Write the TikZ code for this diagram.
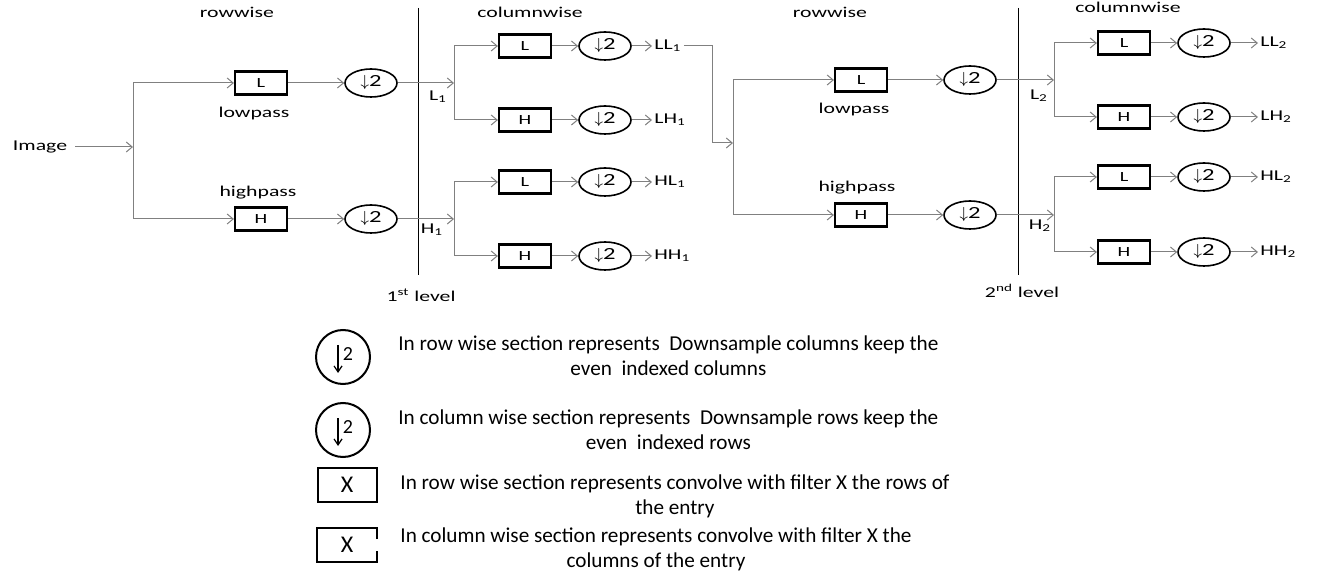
\documentclass[tikz,border=0pt]{standalone}
\usepackage{fontspec}
\setmainfont{Carlito}
\newfontfamily\widefont[FakeStretch=1.45]{Carlito}
\usetikzlibrary{arrows.meta,shapes.geometric,positioning,calc}

\tikzset{
  flow/.style={draw=gray, line width=0.5pt, -{Straight Barb[length=3pt,width=5pt]}},
  filt/.style={draw, line width=1.1pt, minimum width=26pt, minimum height=11.5pt, inner sep=0pt, font=\widefont\fontsize{7}{7}\selectfont},
  dsamp/.style={ellipse, draw, line width=0.8pt, minimum width=26pt, minimum height=14pt, inner sep=0pt, font=\widefont\fontsize{8.5}{9}\selectfont},
  lbl/.style={font=\widefont\fontsize{7.5}{9}\selectfont, inner sep=1pt},
  level/.style={draw, line width=0.45pt},
  legsym/.style={draw, line width=1pt, inner sep=0pt},
  legtxt/.style={font=\fontsize{10.6}{12.5}\selectfont, align=center, inner sep=0pt, anchor=west},
}

\begin{document}
\begin{tikzpicture}[x=0.5pt, y=-0.5pt]
\useasboundingbox (0,0) rectangle (1320,576);

% titres des sections
\node[lbl] (rw1) at (237,12) {rowwise};
\node[lbl] (cw1) at (530,12) {columnwise};
\node[lbl] (rw2) at (830,12) {rowwise};
\node[lbl] (cw2) at (1128,7) {columnwise};

% niveaux
\draw[level] (418,8) -- (418,275);
\node[lbl] (lv1) at (421,295) {1\textsuperscript{st} level};
\draw[level] (1018,8) -- (1018,275);
\node[lbl] (lv2) at (1022,291) {2\textsuperscript{nd} level};

% Niveau 1: lignes
\node[lbl] (img) at (40,147) {Image};
\coordinate (j0) at (133,147);
\draw[flow, shorten <=3pt] (img) -- (j0);
\node[filt] (rL1) at (261,83) {L};
\node[filt] (rH1) at (261,219) {H};
\draw[flow] (j0) |- (rL1);
\draw[flow] (j0) |- (rH1);
\node[lbl] (lp1) at (254,114) {lowpass};
\node[lbl] (hp1) at (258,193) {highpass};
\node[dsamp] (rdL1) at (371,83) {$\downarrow$2};
\node[dsamp] (rdH1) at (371,219) {$\downarrow$2};
\draw[flow] (rL1) -- (rdL1);
\draw[flow] (rH1) -- (rdH1);

% Niveau 1: colonnes
\coordinate (jL1) at (454,83);
\coordinate (jH1) at (454,219);
\draw[flow] (rdL1) -- (jL1);
\draw[flow] (rdH1) -- (jH1);
\node[lbl] (L1) at (438,97) {L\textsubscript{1}};
\node[lbl] (H1) at (432,230) {H\textsubscript{1}};
\node[filt] (cLL1) at (525,46) {L};
\node[filt] (cLH1) at (525,120) {H};
\node[filt] (cHL1) at (525,182) {L};
\node[filt] (cHH1) at (525,256) {H};
\draw[flow] (jL1) |- (cLL1);
\draw[flow] (jL1) |- (cLH1);
\draw[flow] (jH1) |- (cHL1);
\draw[flow] (jH1) |- (cHH1);
\node[dsamp] (dLL1) at (605,46) {$\downarrow$2};
\node[dsamp] (dLH1) at (605,120) {$\downarrow$2};
\node[dsamp] (dHL1) at (605,182) {$\downarrow$2};
\node[dsamp] (dHH1) at (605,256) {$\downarrow$2};
\draw[flow] (cLL1) -- (dLL1);
\draw[flow] (cLH1) -- (dLH1);
\draw[flow] (cHL1) -- (dHL1);
\draw[flow] (cHH1) -- (dHH1);
\node[lbl, anchor=west] (oLL1) at (652,46) {LL\textsubscript{1}};
\node[lbl, anchor=west] (oLH1) at (652,120) {LH\textsubscript{1}};
\node[lbl, anchor=west] (oHL1) at (652,182) {HL\textsubscript{1}};
\node[lbl, anchor=west] (oHH1) at (652,256) {HH\textsubscript{1}};
\draw[flow] (dLL1) -- (oLL1);
\draw[flow] (dLH1) -- (oLH1);
\draw[flow] (dHL1) -- (oHL1);
\draw[flow] (dHH1) -- (oHH1);

% LL1 vers le niveau 2
\coordinate (f1) at (712,46);
\coordinate (j2) at (733,143);
\draw[flow] (oLL1.east) -- (f1) |- (j2);

% Niveau 2: lignes
\node[filt] (rL2) at (861,80) {L};
\node[filt] (rH2) at (861,215) {H};
\draw[flow] (j2) |- (rL2);
\draw[flow] (j2) |- (rH2);
\node[lbl] (lp2) at (854,110) {lowpass};
\node[lbl] (hp2) at (857,188) {highpass};
\node[dsamp] (rdL2) at (970,80) {$\downarrow$2};
\node[dsamp] (rdH2) at (970,215) {$\downarrow$2};
\draw[flow] (rL2) -- (rdL2);
\draw[flow] (rH2) -- (rdH2);

% Niveau 2: colonnes
\coordinate (jL2) at (1054,80);
\coordinate (jH2) at (1054,215);
\draw[flow] (rdL2) -- (jL2);
\draw[flow] (rdH2) -- (jH2);
\node[lbl] (L2) at (1039,96) {L\textsubscript{2}};
\node[lbl] (H2) at (1040,226) {H\textsubscript{2}};
\node[filt] (cLL2) at (1124,43) {L};
\node[filt] (cLH2) at (1124,117) {H};
\node[filt] (cHL2) at (1124,177) {L};
\node[filt] (cHH2) at (1124,252) {H};
\draw[flow] (jL2) |- (cLL2);
\draw[flow] (jL2) |- (cLH2);
\draw[flow] (jH2) |- (cHL2);
\draw[flow] (jH2) |- (cHH2);
\node[dsamp] (dLL2) at (1204,43) {$\downarrow$2};
\node[dsamp] (dLH2) at (1204,117) {$\downarrow$2};
\node[dsamp] (dHL2) at (1204,177) {$\downarrow$2};
\node[dsamp] (dHH2) at (1204,252) {$\downarrow$2};
\draw[flow] (cLL2) -- (dLL2);
\draw[flow] (cLH2) -- (dLH2);
\draw[flow] (cHL2) -- (dHL2);
\draw[flow] (cHH2) -- (dHH2);
\node[lbl, anchor=west] (oLL2) at (1258,43) {LL\textsubscript{2}};
\node[lbl, anchor=west] (oLH2) at (1258,117) {LH\textsubscript{2}};
\node[lbl, anchor=west] (oHL2) at (1258,177) {HL\textsubscript{2}};
\node[lbl, anchor=west] (oHH2) at (1258,252) {HH\textsubscript{2}};
\draw[flow] (dLL2) -- (oLL2);
\draw[flow] (dLH2) -- (oLH2);
\draw[flow] (dHL2) -- (oHL2);
\draw[flow] (dHH2) -- (oHH2);

% legende
\node[legsym, circle, minimum size=27pt] (lc1) at (343,357) {};
\draw[-{Straight Barb[length=3pt,width=4pt]}, line width=0.6pt] ([shift={(-2.5pt,6pt)}]lc1.center) -- ([shift={(-2.5pt,-8pt)}]lc1.center);
\node[font=\fontsize{10}{10}\selectfont, inner sep=0pt] (lc1n) at ([shift={(2.5pt,1.5pt)}]lc1.center) {2};
\node[legtxt] (lt1) at (398,356) {In row wise section represents~ Downsample columns keep the\\even~ indexed columns};

\node[legsym, circle, minimum size=27pt] (lc2) at (343,430) {};
\draw[-{Straight Barb[length=3pt,width=4pt]}, line width=0.6pt] ([shift={(-2.5pt,6pt)}]lc2.center) -- ([shift={(-2.5pt,-8pt)}]lc2.center);
\node[font=\fontsize{10}{10}\selectfont, inner sep=0pt] (lc2n) at ([shift={(2.5pt,1.5pt)}]lc2.center) {2};
\node[legtxt] (lt2) at (398,430) {In column wise section represents~ Downsample rows keep the\\even~ indexed rows};

\node[legsym, minimum width=29.5pt, minimum height=17pt, font=\fontsize{12}{12}\selectfont] (lx1) at (347,485) {X};
\node[legtxt] (lt3) at (400,496) {In row wise section represents convolve with filter X the rows of\\the entry};

\node[minimum width=29.5pt, minimum height=17pt, inner sep=0pt, font=\fontsize{12}{12}\selectfont] (lx2) at (347,545) {X};
\draw[line width=1pt] ([yshift=3pt]lx2.east) -- (lx2.north east) -- (lx2.north west) -- (lx2.south west) -- (lx2.south east) -- ([yshift=-3pt]lx2.east);
\node[legtxt] (lt4) at (400,549) {In column wise section represents convolve with filter X the\\columns of the entry};
\end{tikzpicture}
\end{document}
